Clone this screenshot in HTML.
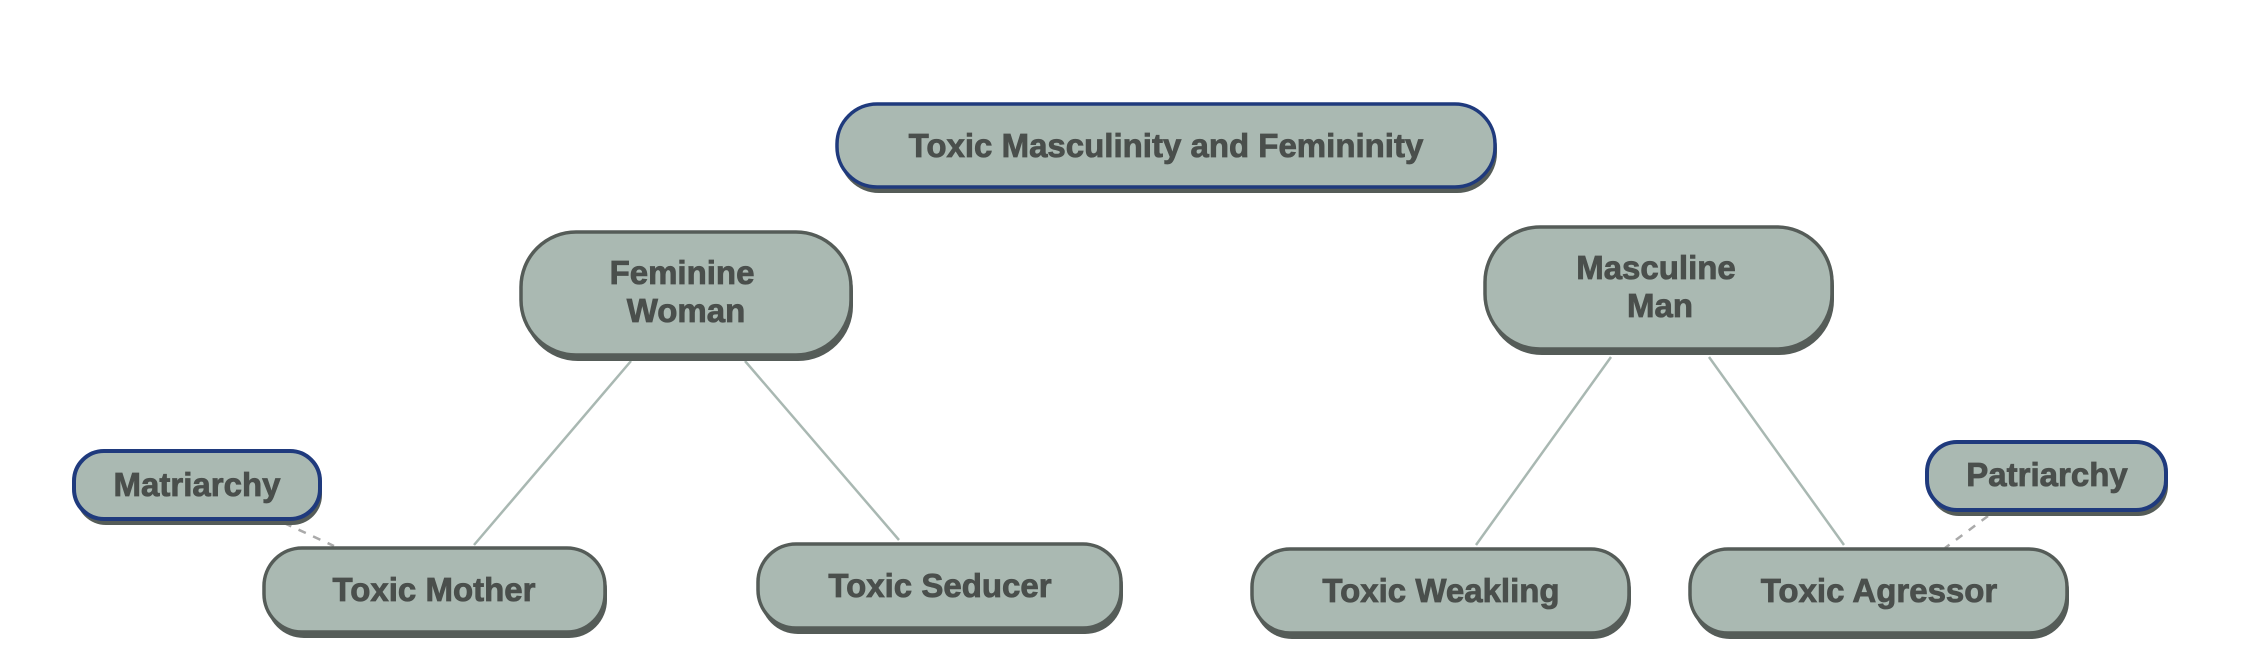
<!DOCTYPE html>
<html><head><meta charset="utf-8"><style>html,body{margin:0;padding:0;background:#fff}svg{display:block}</style></head>
<body>
<svg width="2252" height="666" viewBox="0 0 2252 666" xmlns="http://www.w3.org/2000/svg" font-family="Liberation Sans, Arial, sans-serif" font-weight="bold" fill="#4a4f4c">
<g stroke="#a9b8b2" stroke-width="2.5" fill="none">
<line x1="631" y1="361" x2="474" y2="545"/>
<line x1="745" y1="361" x2="899" y2="540"/>
<line x1="1611" y1="357" x2="1476" y2="545"/>
<line x1="1709" y1="357" x2="1844" y2="545"/>
<line x1="284" y1="523" x2="334" y2="546" stroke="#aaaaaa" stroke-dasharray="8,8"/>
<line x1="1988" y1="516" x2="1945" y2="548" stroke="#aaaaaa" stroke-dasharray="8,8"/>
</g>
<g stroke-width="3.5">
<g fill="#555c58" stroke="none">
<rect x="839" y="108" width="658" height="85" rx="40"/>
<rect x="523" y="236" width="330" height="125" rx="55"/>
<rect x="76" y="455" width="246" height="70" rx="30"/>
<rect x="266" y="552" width="341" height="86" rx="38"/>
<rect x="760" y="548" width="363" height="86" rx="38"/>
<rect x="1487" y="231" width="347" height="124" rx="55"/>
<rect x="1254" y="553" width="377" height="86" rx="38"/>
<rect x="1692" y="553" width="377" height="86" rx="38"/>
<rect x="1929" y="446" width="239" height="70" rx="30"/>
</g>
<rect x="837" y="104" width="658" height="83" rx="40" fill="#aab9b2" stroke="#1f3a7d"/>
<rect x="521" y="232" width="330" height="123" rx="55" fill="#aab9b2" stroke="#555c58"/>
<rect x="74" y="451" width="246" height="68" rx="30" fill="#aab9b2" stroke="#1f3a7d" stroke-width="4"/>
<rect x="264" y="548" width="341" height="84" rx="38" fill="#aab9b2" stroke="#555c58"/>
<rect x="758" y="544" width="363" height="84" rx="38" fill="#aab9b2" stroke="#555c58"/>
<rect x="1485" y="227" width="347" height="122" rx="55" fill="#aab9b2" stroke="#555c58"/>
<rect x="1252" y="549" width="377" height="84" rx="38" fill="#aab9b2" stroke="#555c58"/>
<rect x="1690" y="549" width="377" height="84" rx="38" fill="#aab9b2" stroke="#555c58"/>
<rect x="1927" y="442" width="239" height="68" rx="30" fill="#aab9b2" stroke="#1f3a7d" stroke-width="4"/>
</g>
<g font-size="33" text-anchor="middle" stroke="#4a4f4c" stroke-width="0.8">
<text x="1166" y="157">Toxic Masculinity and Femininity</text>
<text x="682" y="284">Feminine</text>
<text x="686" y="322">Woman</text>
<text x="197" y="496">Matriarchy</text>
<text x="434" y="601">Toxic Mother</text>
<text x="940" y="597">Toxic Seducer</text>
<text x="1656" y="279">Masculine</text>
<text x="1660" y="317">Man</text>
<text x="1441" y="602">Toxic Weakling</text>
<text x="1879" y="602">Toxic Agressor</text>
<text x="2047" y="486">Patriarchy</text>
</g>
</svg>
</body></html>
